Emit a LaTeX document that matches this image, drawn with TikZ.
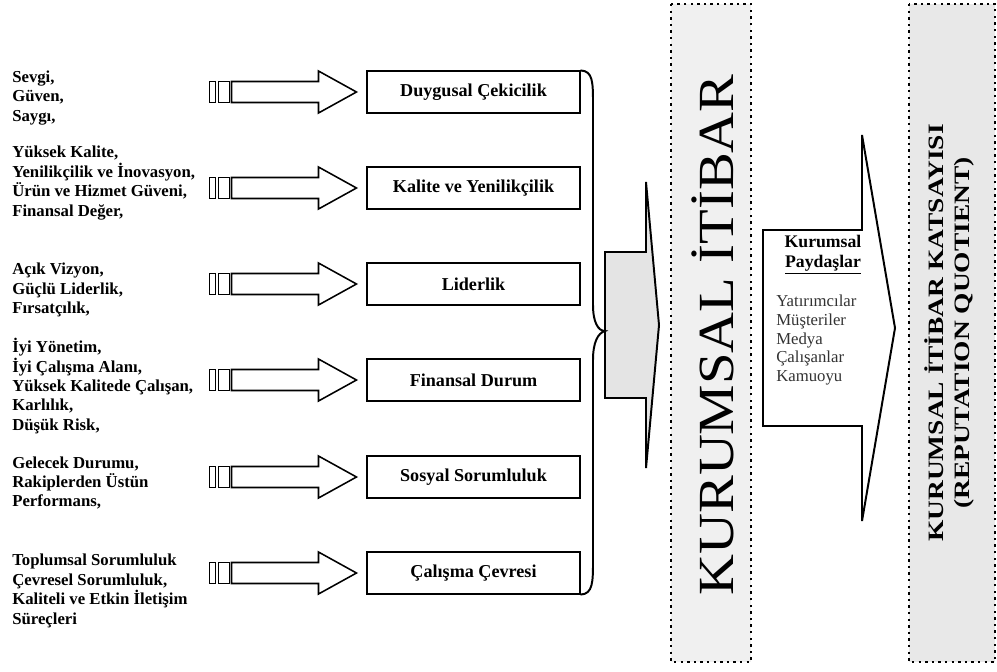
\documentclass[tikz,border=0pt]{standalone}
\usepackage{fontspec}
\setmainfont{Liberation Serif}
\usepackage{graphicx}
\usepackage{tikz}
\usetikzlibrary{calc}
\definecolor{panelgray}{RGB}{240,240,240}
\definecolor{panelgraydark}{RGB}{232,232,232}
\definecolor{arrowgray}{RGB}{228,228,228}

\begin{document}
\begin{tikzpicture}[
    x=0.025cm, y=-0.025cm,
    factor/.style={draw, line width=1.4pt, minimum width=5.3cm, minimum height=1.03cm, inner sep=0pt, font=\fontsize{12.9}{14}\selectfont\bfseries},
    cue/.style={anchor=west, align=left, inner sep=0pt, font=\fontsize{11.9}{13.8}\selectfont\bfseries},
    fat/.style={draw, line width=1.1pt, fill=white, line join=miter},
    dotbox/.style={draw, line width=1.7pt, dash pattern=on 1.7pt off 3pt},
    brace/.style={draw, line width=1.4pt},
    upright/.style={rotate=90, anchor=base, inner sep=0pt}
]
    \useasboundingbox (0,0) rectangle (997,671);

    % Sütun panelleri
    \draw[dotbox, fill=panelgray] (671,4) rectangle (751,662);
    \draw[dotbox, fill=panelgraydark] (909,4) rectangle (995,662);

    % Bileşen kutuları
    \node[factor] (duygu) at (473.5,92) {Duygusal Çekicilik};
    \node[factor] (kalite) at (473.5,188) {Kalite ve Yenilikçilik};
    \node[factor] (lider) at (473.5,284) {Liderlik};
    \node[factor] (finans) at (473.5,380) {Finansal Durum};
    \node[factor] (sosyal) at (473.5,477) {Sosyal Sorumluluk};
    \node[factor] (calisma) at (473.5,573) {Çalışma Çevresi};

    % Sol taraftaki ölçütler
    \node[cue] (c1) at (12,98) {Sevgi,\\Güven,\\Saygı,};
    \node[cue] (c2) at (12,183) {Yüksek Kalite,\\Yenilikçilik ve İnovasyon,\\Ürün ve Hizmet Güveni,\\Finansal Değer,};
    \node[cue] (c3) at (12,290) {Açık Vizyon,\\Güçlü Liderlik,\\Fırsatçılık,};
    \node[cue] (c4) at (12,386) {İyi Yönetim,\\İyi Çalışma Alanı,\\Yüksek Kalitede Çalışan,\\Karlılık,\\Düşük Risk,};
    \node[cue] (c5) at (12,483) {Gelecek Durumu,\\Rakiplerden Üstün\\Performans,};
    \node[cue] (c6) at (12,591) {Toplumsal Sorumluluk\\Çevresel Sorumluluk,\\Kaliteli ve Etkin İletişim\\Süreçleri};

    % Kalın oklar
    \foreach \b in {duygu,kalite,lider,finans,sosyal,calisma} {
        \draw[fat] (\b.west) ++(-10,0) -- ++(-38,-21) -- ++(0,10.5) -- ++(-87,0) -- ++(0,21) -- ++(87,0) -- ++(0,10.5) -- cycle;
        \draw[fat] (\b.west) ++(-137,-10.5) rectangle ++(-11,21);
        \draw[fat] (\b.west) ++(-151,-10.5) rectangle ++(-6,21);
    }

    % Toplayıcı ok ve parantez
    \coordinate (gin) at (605,331);
    \draw[brace, fill=arrowgray, line join=miter] (605,252) -- (646,252) -- (646,182) -- (659,325) -- (646,468) -- (646,398) -- (605,398) -- cycle;
    \draw[brace] (duygu.north east) .. controls (593,71) and (593,82) .. (593,105) -- (593,305)
        .. controls (593,322) and (598,331) .. (gin)
        .. controls (598,333) and (593,342) .. (593,360) -- (593,560)
        .. controls (593,582) and (593,594) .. (calisma.south east);

    % Kurumsal itibar
    \node[upright, font=\fontsize{36}{40}\selectfont] (itibar) at (733,335) {\scalebox{1.12}[1]{KURUMSAL İTİBAR}};

    % Paydaşlar oku
    \draw[fat, line width=1.4pt] (763,230) -- (862,230) -- (862,135) -- (895,328) -- (862,521) -- (862,426) -- (763,426) -- cycle;
    \node[align=center, inner sep=0pt, font=\fontsize{12.6}{14.2}\selectfont\bfseries] (paydas) at (823,255) {Kurumsal\\\underline{Paydaşlar}};
    \node[anchor=west, align=left, inner sep=0pt, text=black!80, font=\fontsize{11.9}{13.5}\selectfont] (liste) at (776,340) {Yatırımcılar\\Müşteriler\\Medya\\Çalışanlar\\Kamuoyu};

    % Katsayı
    \node[upright, font=\fontsize{15.6}{18}\selectfont\bfseries] (katsayi) at (943,333) {\scalebox{1.25}[1]{KURUMSAL İTİBAR KATSAYISI}};
    \node[upright, font=\fontsize{15.6}{18}\selectfont\bfseries] (rq) at (969,333) {\scalebox{1.25}[1]{(REPUTATION QUOTIENT)}};
\end{tikzpicture}
\end{document}
